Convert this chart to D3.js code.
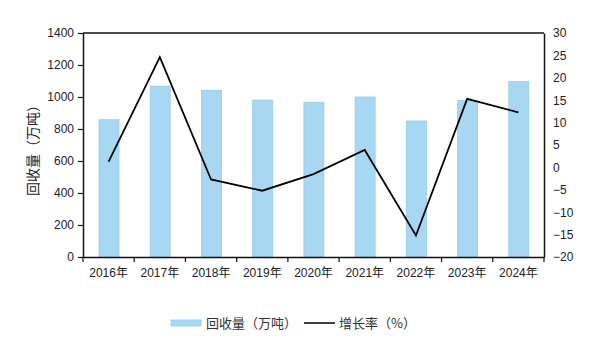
<!DOCTYPE html>
<html><head><meta charset="utf-8">
<script src="https://cdn.jsdelivr.net/npm/d3@7"></script>
<style>body{margin:0;background:#fff}</style>
</head><body>
<svg id="c" width="600" height="351"></svg>
<script>
const years = ["2016年","2017年","2018年","2019年","2020年","2021年","2022年","2023年","2024年"];
const recovery = [858, 1068, 1042, 981, 967, 1000, 850, 979, 1096];
const growth = [1.3, 24.6, -2.7, -5.2, -1.5, 3.9, -15.2, 15.3, 12.3];
const leftTicks = [0,200,400,600,800,1000,1200,1400];
const rightTicks = [-20,-15,-10,-5,0,5,10,15,20,25,30];
const legendLabels = ["回收量（万吨）","增长率（%）"];
const yTitle = "回收量（万吨）";

const svg = d3.select("#c");
const m = {l:83, r:544, t:33, b:257};
const font = "'Liberation Sans', 'Noto Sans CJK SC', sans-serif";
const xc = d3.scaleBand().domain(years).range([m.l, m.r]);
const yL = d3.scaleLinear().domain([0,1400]).range([m.b, m.t]);
const yR = d3.scaleLinear().domain([-20,30]).range([m.b, m.t]);

// bars
svg.append("g").selectAll("rect").data(years).join("rect")
  .attr("x", (d)=>xc(d)+xc.bandwidth()/2-9.6)
  .attr("width", 20)
  .attr("y", (d,i)=>yL(recovery[i]))
  .attr("height", (d,i)=>m.b - yL(recovery[i]))
  .attr("fill", "#a8d8f1")
  .attr("stroke", "#92cdea").attr("stroke-width", 0.8);

// frame top
svg.append("line").attr("x1", m.l).attr("x2", m.r).attr("y1", m.t).attr("y2", m.t)
  .attr("stroke", "#111").attr("stroke-width", 1.3);

// left axis
const gl = svg.append("g").attr("transform", `translate(${m.l},0)`)
  .call(d3.axisLeft(yL).tickValues(leftTicks).tickFormat(d3.format("d")).tickSize(5).tickPadding(4).tickSizeOuter(0));
gl.select(".domain").attr("stroke", "#111").attr("stroke-width", 1.5);
gl.selectAll(".tick line").attr("stroke", "#111").attr("stroke-width", 1.2);
gl.selectAll("text").attr("font-family", font).attr("font-size", 12).attr("fill", "#222");

// right axis
const gr = svg.append("g").attr("transform", `translate(${m.r},0)`)
  .call(d3.axisRight(yR).tickValues(rightTicks).tickFormat(d3.format("d")).tickSize(0).tickPadding(9).tickSizeOuter(0));
gr.select(".domain").attr("stroke", "#111").attr("stroke-width", 1.5);
gr.selectAll("text").attr("font-family", font).attr("font-size", 12).attr("fill", "#222");

// x axis
const gx = svg.append("g").attr("transform", `translate(0,${m.b})`)
  .call(d3.axisBottom(xc).tickSize(0).tickPadding(11).tickSizeOuter(0));
gx.select(".domain").attr("stroke", "#111").attr("stroke-width", 1.5);
gx.selectAll("text").attr("font-family", font).attr("font-size", 12).attr("fill", "#222");
// boundary ticks
const bounds = years.map(d=>xc(d)).concat([m.r]);
svg.append("g").selectAll("line").data(bounds).join("line")
  .attr("x1", d=>d).attr("x2", d=>d).attr("y1", m.b).attr("y2", m.b+5)
  .attr("stroke", "#111").attr("stroke-width", 1.2);

// line
const line = d3.line().x((d,i)=>xc(years[i])+xc.bandwidth()/2).y(d=>yR(d));
svg.append("path").datum(growth).attr("d", line)
  .attr("fill", "none").attr("stroke", "#000").attr("stroke-width", 1.8).attr("stroke-linejoin", "miter");

// y title
svg.append("text").attr("transform", "translate(38,147) rotate(-90)")
  .attr("text-anchor", "middle").attr("font-family", "'Noto Sans CJK SC', sans-serif")
  .attr("font-size", 14).attr("fill", "#222").text(yTitle);

// legend
const lg = svg.append("g");
lg.append("rect").attr("x", 171).attr("y", 320).attr("width", 30).attr("height", 6)
  .attr("fill", "#a8d8f1").attr("stroke", "#92cdea").attr("stroke-width", 0.8);
lg.append("text").attr("x", 206).attr("y", 328).attr("font-family", "'Noto Sans CJK SC', sans-serif")
  .attr("font-size", 13).attr("fill", "#333").text(legendLabels[0]);
lg.append("line").attr("x1", 304).attr("x2", 335).attr("y1", 323).attr("y2", 323)
  .attr("stroke", "#000").attr("stroke-width", 1.5);
lg.append("text").attr("x", 339).attr("y", 328).attr("font-family", "'Noto Sans CJK SC', sans-serif")
  .attr("font-size", 13).attr("fill", "#333").text(legendLabels[1]);
</script>
</body></html>
